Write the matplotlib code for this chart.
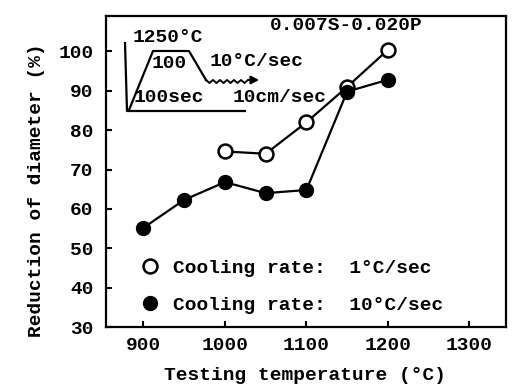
import matplotlib
matplotlib.use("Agg")
import matplotlib.pyplot as plt
from matplotlib.lines import Line2D
import numpy as np

plt.rcParams['font.family'] = ['Liberation Mono', 'DejaVu Sans Mono']
plt.rcParams['font.weight'] = 'bold'

temp_open = [1000, 1050, 1100, 1150, 1200]
red_open = [74.6, 74.0, 82.0, 91.0, 100.4]
temp_filled = [900, 950, 1000, 1050, 1100, 1150, 1200]
red_filled = [55.2, 62.3, 66.8, 64.0, 64.8, 89.8, 92.8]
xticks = [900, 1000, 1100, 1200, 1300]
yticks = [30, 40, 50, 60, 70, 80, 90, 100]
label_open = "Cooling rate:  1°C/sec"
label_filled = "Cooling rate:  10°C/sec"

W, H = 512, 385
fig = plt.figure(figsize=(W/100, H/100), dpi=100)
L, R, B, T = 106, 506, 327, 16
ax = fig.add_axes([L/W, 1-B/H, (R-L)/W, (B-T)/H])
ax.set_xlim(854, 1345)
ax.set_ylim(30, 109)

ax.plot(temp_open, red_open, color='black', lw=1.6, marker='o', ms=10,
        mfc='white', mec='black', mew=1.8, zorder=3)
ax.plot(temp_filled, red_filled, color='black', lw=1.6, marker='o', ms=10,
        mfc='black', mec='black', zorder=4)

ax.set_xticks(xticks)
ax.set_yticks(yticks)
ax.tick_params(direction='in', length=4, width=1.5, labelsize=14, pad=7)
ax.tick_params(axis='y', pad=9)
for s in ax.spines.values():
    s.set_linewidth(1.6)

fig.text(305/W, 1-375/H, "Testing temperature (°C)", ha='center', va='center', fontsize=14)
fig.text(37/W, 1-190/H, "Reduction of diameter (%)", ha='center', va='center',
         fontsize=14, rotation=90)

# legend
handles = [Line2D([], [], ls='none', marker='o', ms=10, mfc='white', mec='black', mew=1.8),
           Line2D([], [], ls='none', marker='o', ms=10, mfc='black', mec='black')]
ax.legend(handles, [label_open, label_filled], loc='lower left',
          bbox_to_anchor=((140-L)/(R-L), (327-314)/(B-T)), frameon=False,
          fontsize=14, handletextpad=0.7, labelspacing=1.0, handlelength=1.0,
          borderpad=0, borderaxespad=0)

# inset schematic (pixel coordinates of the figure)
def P(x, y):
    return x/W, 1-y/H
tf = fig.transFigure
def line(xs, ys, **kw):
    pts = [P(x, y) for x, y in zip(xs, ys)]
    fig.add_artist(Line2D([p[0] for p in pts], [p[1] for p in pts], transform=tf,
                          color='black', lw=kw.get('lw', 1.6)))
line([125, 127, 245], [43, 111, 111])
line([129, 153, 189, 206], [110, 51, 51, 80])
zx = np.linspace(206, 248, 13)
zy = [80 + (3 if i % 2 else 0) for i in range(len(zx))]
line(list(zx), zy, lw=1.4)
fig.add_artist(matplotlib.patches.FancyArrowPatch(P(246, 80), P(262, 80), transform=tf,
               arrowstyle='-|>', mutation_scale=12, color='black', lw=1.4))
fs = 14
fig.text(*P(133, 37), "1250°C", fontsize=fs, ha='left', va='center')
fig.text(*P(152, 64), "100", fontsize=fs, ha='left', va='center')
fig.text(*P(210, 61), "10°C/sec", fontsize=fs, ha='left', va='center')
fig.text(*P(134, 98), "100sec", fontsize=fs, ha='left', va='center')
fig.text(*P(233, 98), "10cm/sec", fontsize=fs, ha='left', va='center')
fig.text(*P(270, 25), "0.007S-0.020P", fontsize=14, ha='left', va='center')

fig.savefig("out.png", dpi=100)
